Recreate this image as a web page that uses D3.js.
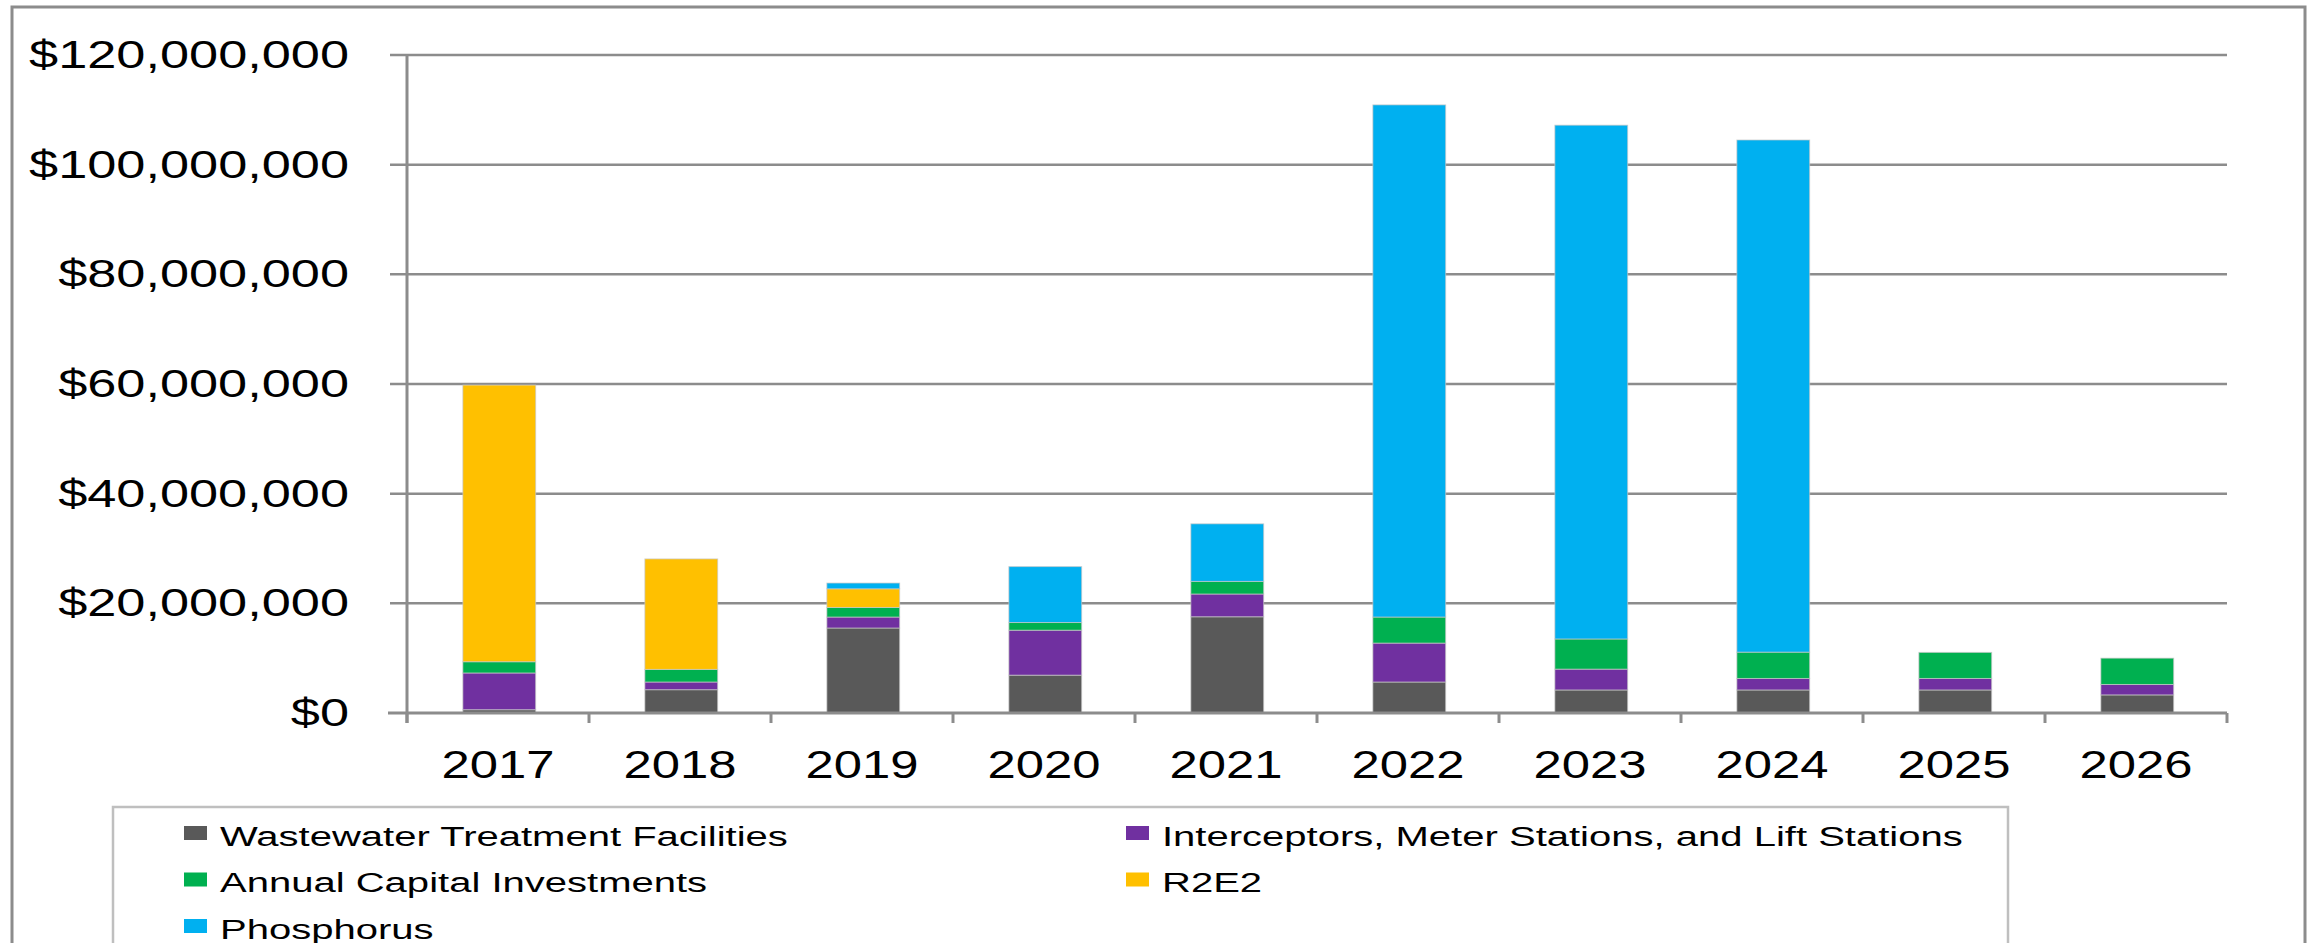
<!DOCTYPE html>
<html>
<head>
<meta charset="utf-8">
<script src="https://cdn.jsdelivr.net/npm/d3@7"></script>
<style>
  html, body { margin: 0; padding: 0; background: #fff; overflow: hidden; }
  text { font-family: "Liberation Sans", Arial, sans-serif; fill: #000; }
</style>
</head>
<body>
<svg id="chart" width="2318" height="943"></svg>
<script>
// ---- data (US dollars) ----
const categories = ["2017","2018","2019","2020","2021","2022","2023","2024","2025","2026"];
const wastewater   = [0.6e6, 4.25e6, 15.5e6, 6.9e6, 17.55e6, 5.65e6, 4.2e6, 4.2e6, 4.2e6, 3.3e6];
const interceptors = [6.7e6, 1.4e6, 2.0e6, 8.2e6, 4.15e6, 7.1e6, 3.8e6, 2.1e6, 2.1e6, 1.9e6];
const annualCapital= [2.05e6, 2.3e6, 1.75e6, 1.4e6, 2.3e6, 4.75e6, 5.5e6, 4.8e6, 4.75e6, 4.8e6];
const r2e2         = [50.45e6, 20.15e6, 3.4e6, 0, 0, 0, 0, 0, 0, 0];
const phosphorus   = [0, 0, 1.05e6, 10.2e6, 10.5e6, 93.4e6, 93.7e6, 93.4e6, 0, 0];
const seriesNames  = ["Wastewater Treatment Facilities", "Interceptors, Meter Stations, and Lift Stations",
                      "Annual Capital Investments", "R2E2", "Phosphorus"];
const seriesColors = ["#595959", "#7030A0", "#00B050", "#FFC000", "#00B0F0"];
const yTicks = [0, 20e6, 40e6, 60e6, 80e6, 100e6, 120e6];

(function () {
// ---- build table for stacking ----
const keys = ["w", "i", "a", "r", "p"];
const seriesArrays = [wastewater, interceptors, annualCapital, r2e2, phosphorus];
const table = categories.map((c, k) => {
  const row = { cat: c };
  keys.forEach((key, s) => row[key] = seriesArrays[s][k]);
  return row;
});
const stacked = d3.stack().keys(keys)(table);

const svg = d3.select("#chart");
const pLeft = 407, pRight = 2227, pTop = 55, pBottom = 713;
const gridColor = "#8c8c8c";

// outer frame
svg.append("rect").attr("x", 12).attr("y", 7).attr("width", 2293).attr("height", 1000)
  .attr("fill", "none").attr("stroke", gridColor).attr("stroke-width", 3);

const x = d3.scaleBand().domain(categories).range([pLeft, pRight]).padding(0);
const y = d3.scaleLinear().domain([0, 120e6]).range([pBottom, pTop]);
const bw = x.bandwidth();

// gridlines
svg.append("g").selectAll("line").data(yTicks.filter(d => d > 0)).join("line")
  .attr("x1", pLeft - 17).attr("x2", pRight)
  .attr("y1", d => y(d)).attr("y2", d => y(d))
  .attr("stroke", gridColor).attr("stroke-width", 2.5);

// bars
svg.append("g").selectAll("g").data(stacked).join("g")
  .attr("fill", (d, s) => seriesColors[s])
  .selectAll("rect").data(d => d.filter(v => v[1] - v[0] > 0)).join("rect")
  .attr("x", d => x(d.data.cat) + bw * 0.307)
  .attr("width", bw * 0.4)
  .attr("y", d => y(d[1]))
  .attr("height", d => y(d[0]) - y(d[1]))
  .attr("stroke", "rgba(200,200,200,0.7)").attr("stroke-width", 1);

// y axis line + x axis line
svg.append("line").attr("x1", pLeft).attr("x2", pLeft).attr("y1", pTop).attr("y2", pBottom + 10)
  .attr("stroke", gridColor).attr("stroke-width", 3);
svg.append("line").attr("x1", pLeft - 19).attr("x2", pRight).attr("y1", pBottom).attr("y2", pBottom)
  .attr("stroke", gridColor).attr("stroke-width", 3);

// x ticks at category boundaries
const boundaries = categories.map(c => x(c)).concat([x(categories[categories.length - 1]) + bw]);
svg.append("g").selectAll("line").data(boundaries).join("line")
  .attr("x1", d => d).attr("x2", d => d).attr("y1", pBottom).attr("y2", pBottom + 10)
  .attr("stroke", gridColor).attr("stroke-width", 3);

// helper to measure text width
function measure(str, size) {
  const t = svg.append("text").attr("font-size", size).text(str);
  const w = t.node().getComputedTextLength();
  t.remove();
  return w;
}

// y labels
const fmt = d => "$" + d3.format(",")(d);
const ySx = 320 / measure(fmt(120e6), 38);
svg.append("g").selectAll("text").data(yTicks).join("text")
  .attr("font-size", 38).attr("text-anchor", "end")
  .attr("transform", d => `translate(349,${y(d) + 13}) scale(${ySx},1)`)
  .text(fmt);

// x labels
const xSx = 113 / measure("2017", 39);
svg.append("g").selectAll("text").data(categories).join("text")
  .attr("font-size", 39).attr("text-anchor", "middle")
  .attr("transform", d => `translate(${x(d) + bw / 2},778) scale(${xSx},1)`)
  .text(d => d);

// legend
svg.append("rect").attr("x", 113).attr("y", 807).attr("width", 1895).attr("height", 300)
  .attr("fill", "#fff").attr("stroke", "#bfbfbf").attr("stroke-width", 2.5);
const lSx = 568 / measure(seriesNames[0], 28);
const legendOrder = [0, 1, 2, 3, 4];
const lg = svg.append("g").selectAll("g").data(legendOrder).join("g")
  .attr("transform", (s, k) => `translate(${k % 2 === 0 ? 184 : 1126},${826 + Math.floor(k / 2) * 46.5})`);
lg.append("rect").attr("width", 23).attr("height", 14).attr("fill", s => seriesColors[s]);
lg.append("text").attr("font-size", 28)
  .attr("transform", `translate(36,19.5) scale(${lSx},1)`)
  .text(s => seriesNames[s]);
})();
</script>
</body>
</html>
